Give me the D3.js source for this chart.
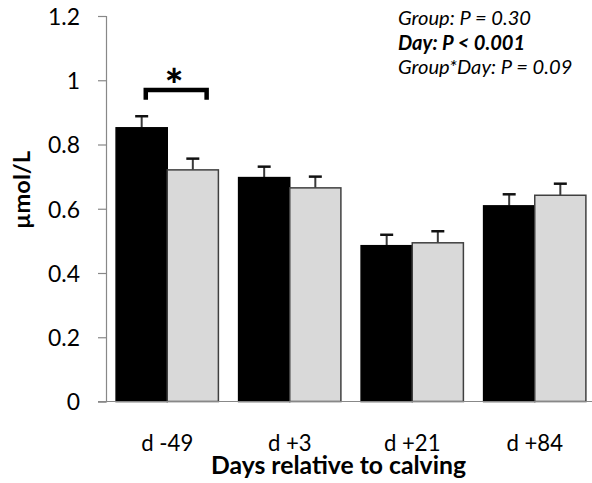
<!DOCTYPE html>
<html>
<head>
<meta charset="utf-8">
<script src="https://cdn.jsdelivr.net/npm/d3@7"></script>
<style>
  html, body { margin: 0; padding: 0; background: #fff; }
  svg { display: block; }
  text { font-family: Lato, "Open Sans", sans-serif; fill: #000; }
</style>
</head>
<body>
<svg id="chart" width="592" height="483"></svg>
<script>
// Sampling days and the two groups' means ± SE (µmol/L)
const days = ["d -49", "d +3", "d +21", "d +84"];
const groupA = [0.852, 0.697, 0.485, 0.609];
const groupB = [0.721, 0.665, 0.494, 0.642];
const seA = [0.036, 0.034, 0.034, 0.036];
const seB = [0.035, 0.035, 0.036, 0.036];
const yTicks = [0, 0.2, 0.4, 0.6, 0.8, 1, 1.2];
const stats = [
  { text: "Group: P = 0.30", bold: false },
  { text: "Day: P < 0.001", bold: true },
  { text: "Group*Day: P = 0.09", bold: false }
];
// Significant difference between groups at d -49
const sigDay = "d -49";
const sigBracket = { top: 0.97, bottom: 0.939, star: 1.02 };

const svg = d3.select("#chart");
const plotL = 106, plotR = 596, plotT = 16, plotB = 401.5;

// Scale a text selection's font so a reference string spans the given width
function fitFont(sel, refNode, width) {
  const fs = parseFloat(d3.select(refNode).attr("font-size"));
  const w = refNode.getComputedTextLength();
  sel.attr("font-size", (fs * width / w).toFixed(2));
}

const x = d3.scaleBand().domain(days).range([plotL, plotR])
  .paddingInner(0.165).paddingOuter(0.0825);
const sub = d3.scaleBand().domain(["A", "B"]).range([0, x.bandwidth()]);
const y = d3.scaleLinear().domain([0, 1.2]).range([plotB, plotT]);

const rows = days.map((d, i) => ([
  { day: d, g: "A", v: groupA[i], se: seA[i] },
  { day: d, g: "B", v: groupB[i], se: seB[i] }
])).flat();

// Error bars (upper only), drawn beneath the bars
const eb = svg.append("g");
rows.forEach(r => {
  const cx = x(r.day) + sub(r.g) + sub.bandwidth() / 2;
  eb.append("line").attr("x1", cx).attr("x2", cx)
    .attr("y1", y(r.v)).attr("y2", y(r.v + r.se))
    .attr("stroke", "#3a3a3a").attr("stroke-width", 2);
  eb.append("line").attr("x1", cx - 6.5).attr("x2", cx + 6.5)
    .attr("y1", y(r.v + r.se)).attr("y2", y(r.v + r.se))
    .attr("stroke", "#111").attr("stroke-width", 2.5);
});

// Bars
svg.append("g").selectAll("rect").data(rows).join("rect")
  .attr("x", r => x(r.day) + sub(r.g))
  .attr("width", sub.bandwidth())
  .attr("y", r => y(r.v))
  .attr("height", r => y(0) - y(r.v))
  .attr("fill", r => r.g === "A" ? "#000" : "#d9d9d9")
  .attr("stroke", r => r.g === "A" ? "#000" : "#404040")
  .attr("stroke-width", 1.5);

// Y axis
const yAxis = svg.append("g").attr("transform", `translate(${plotL},0)`)
  .call(d3.axisLeft(y).tickValues(yTicks).tickSize(8).tickPadding(18)
    .tickFormat(d3.format("~g")));
yAxis.select(".domain").attr("stroke", "#888").attr("stroke-width", 1.2);
yAxis.selectAll(".tick line").attr("stroke", "#888").attr("stroke-width", 1.2);
const yLabels = yAxis.selectAll(".tick text").attr("font-size", 20)
  .attr("font-family", null).attr("fill", "#000").attr("dy", "0.36em");
fitFont(yLabels, yLabels.filter(d => d === 1.2).node(), 32);

// X baseline and category labels
svg.append("line").attr("x1", plotL - 8).attr("x2", 592)
  .attr("y1", y(0)).attr("y2", y(0))
  .attr("stroke", "#888").attr("stroke-width", 1.2);
const xLabels = svg.append("g").selectAll("text").data(days).join("text")
  .attr("x", d => x(d) + x.bandwidth() / 2)
  .attr("y", 451)
  .attr("text-anchor", "middle")
  .attr("font-size", 20)
  .text(d => d);
fitFont(xLabels, xLabels.node(), 52);

// Axis titles
const xTitle = svg.append("text").attr("x", 338.5).attr("y", 473.5)
  .attr("text-anchor", "middle").attr("font-size", 20).attr("font-weight", "bold")
  .text("Days relative to calving");
fitFont(xTitle, xTitle.node(), 255);
const yTitle = svg.append("text")
  .attr("transform", "translate(30,190) rotate(-90)")
  .attr("text-anchor", "middle").attr("font-size", 19).attr("font-weight", "bold")
  .text("µmol/L");
fitFont(yTitle, yTitle.node(), 78);

// Significance bracket and star
const bx0 = x(sigDay) + x.bandwidth() * 0.29;
const bx1 = x(sigDay) + x.bandwidth() * 0.885;
svg.append("path")
  .attr("d", `M${bx0},${y(sigBracket.bottom)} V${y(sigBracket.top)} H${bx1} V${y(sigBracket.bottom)}`)
  .attr("fill", "none").attr("stroke", "#000").attr("stroke-width", 4.5)
  .attr("stroke-linejoin", "miter");
const star = svg.append("text").attr("x", 0).attr("y", 0)
  .attr("font-size", 44).attr("font-weight", "900")
  .text("*");
{
  const bb = star.node().getBBox();
  // glyph box is taller than the ink; centre the ink on the target point
  const cx = (bx0 + bx1) / 2 - 2, cy = y(sigBracket.star);
  star.attr("x", cx - bb.width / 2).attr("y", cy - (bb.y + bb.height * 0.3));
}

// Statistics summary
const statText = svg.append("g").selectAll("text").data(stats).join("text")
  .attr("x", 398).attr("y", (d, i) => 25 + i * 24.5)
  .attr("font-size", 16.5).attr("font-style", "italic")
  .attr("font-weight", d => d.bold ? "bold" : "normal")
  .text(d => d.text);
fitFont(statText, statText.node(), 133);
</script>
</body>
</html>
